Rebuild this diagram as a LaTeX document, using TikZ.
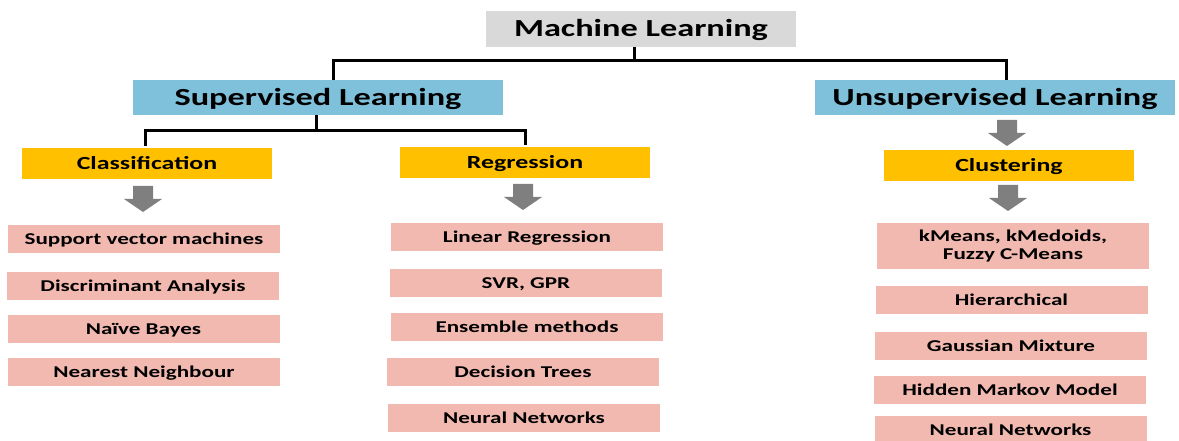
\documentclass[tikz,border=0pt]{standalone}
\usepackage{fontspec}
\setmainfont{Carlito}[FakeStretch=1.4]
\usepackage{tikz}
\definecolor{mlgray}{HTML}{D9D9D9}
\definecolor{supblue}{HTML}{7FC0DA}
\definecolor{catorange}{HTML}{FFC000}
\definecolor{algpink}{HTML}{F1B9B0}
\definecolor{arrgray}{HTML}{7F7F7F}
\tikzset{
  topbox/.style={fill=mlgray, minimum width=310pt, minimum height=36pt, inner sep=0pt, text height=15.8pt, text depth=0pt, font=\fontsize{24.5}{28}\selectfont\bfseries},
  kindbox/.style={fill=supblue, minimum height=35pt, inner sep=0pt, text height=15.8pt, text depth=0pt, font=\fontsize{24.5}{28}\selectfont\bfseries},
  catbox/.style={fill=catorange, minimum width=250pt, minimum height=31pt, inner sep=0pt, text height=12pt, text depth=0pt, font=\fontsize{18.5}{22}\selectfont\bfseries},
  algbase/.style={fill=algpink, minimum width=272pt, minimum height=28pt, inner sep=0pt, align=center, font=\fontsize{16.5}{18}\selectfont\bfseries},
  algbox/.style={algbase, text height=10.6pt, text depth=0pt},
  conn/.style={draw=black, line width=3pt},
  fatarrow/.pic={\fill[arrgray] (-10,0) -- (10,0) -- (10,13) -- (19,13) -- (0,26) -- (-19,13) -- (-10,13) -- cycle;},
}
\begin{document}
\begin{tikzpicture}[x=1pt,y=-1pt]
  \useasboundingbox (0,0) rectangle (1179,441);

  % top levels
  \node[topbox] (ml) at (641,29) {Machine Learning};
  \node[kindbox, minimum width=370pt] (sup) at (318,97.5) {Supervised Learning};
  \node[kindbox, minimum width=360pt] (uns) at (995,97.5) {Unsupervised Learning};

  \node[catbox] (cls) at (147,163.5) {Classification};
  \node[catbox] (reg) at (525,162.5) {Regression};
  \node[catbox] (clu) at (1009,165.5) {Clustering};

  % tree lines
  \draw[conn] ([xshift=-7pt]ml.south) -- ++(0,13) coordinate (mlj);
  \draw[conn] (mlj) -| ([xshift=15pt]sup.north);
  \draw[conn] (mlj) -| ([xshift=11pt]uns.north);
  \draw[conn] ([xshift=-2pt]sup.south) -- ++(0,15) coordinate (supj);
  \draw[conn] (supj) -| ([xshift=-2pt,yshift=2pt]cls.north);
  \draw[conn] (supj) -| ([yshift=2pt]reg.north);

  % grey arrows
  \pic at (143,186) {fatarrow};
  \pic at (523,184) {fatarrow};
  \pic at (1007,120) {fatarrow};
  \pic at (1008,185) {fatarrow};

  % classification
  \node[algbox] (svm) at (144,239) {Support vector machines};
  \node[algbox] (da) at (143,286) {Discriminant Analysis};
  \node[algbox] (nb) at (143.5,329) {Naïve Bayes};
  \node[algbox] (nn1) at (144,372) {Nearest Neighbour};

  % regression
  \node[algbox] (lr) at (527,237) {Linear Regression};
  \node[algbox] (svr) at (526,283) {SVR, GPR};
  \node[algbox] (ens) at (527,327) {Ensemble methods};
  \node[algbox] (dt) at (523,372) {Decision Trees};
  \node[algbox] (nn2) at (524,418) {Neural Networks};

  % clustering
  \node[algbase, minimum height=46pt] (km) at (1013,246) {kMeans, kMedoids,\\Fuzzy C-Means};
  \node[algbox] (hier) at (1011.5,300) {Hierarchical};
  \node[algbox] (gm) at (1011,346) {Gaussian Mixture};
  \node[algbox] (hmm) at (1010,390) {Hidden Markov Model};
  \node[algbox] (nn3) at (1010.5,430) {Neural Networks};
\end{tikzpicture}
\end{document}
